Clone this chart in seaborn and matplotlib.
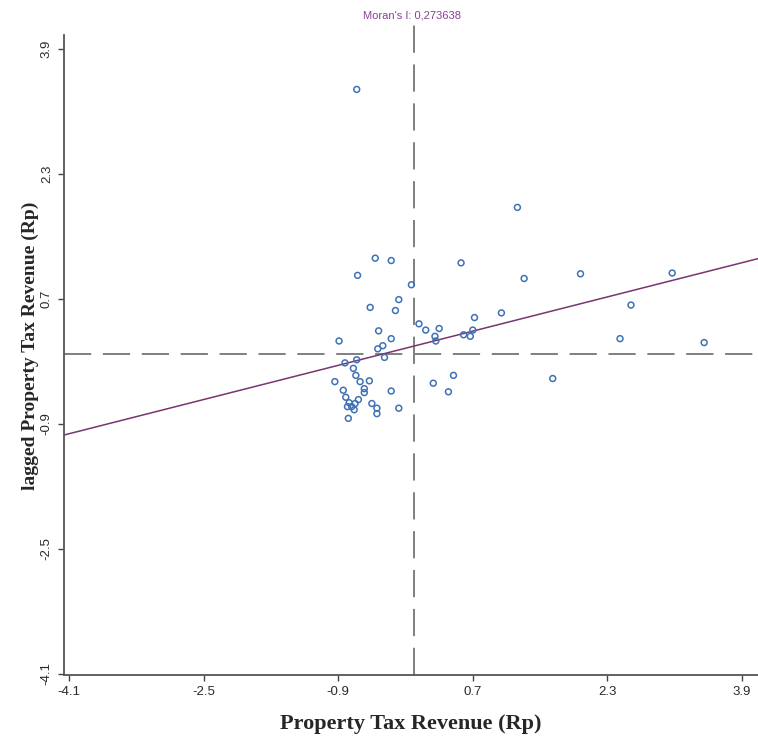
import matplotlib
matplotlib.use('agg')
import matplotlib.pyplot as plt
import numpy as np
import pandas as pd
import seaborn as sns

# standardized property tax revenue (x) and its spatial lag (y)
tax_revenue = [1.23, -0.46, -0.27, 0.56, -0.67, 1.31, -0.03, -0.18, -0.52, -0.22,
               0.72, 1.04, 0.06, 0.14, 0.30, -0.42, 0.70, 0.25, 0.26, 0.59,
               0.67, -0.89, -0.27, -0.37, -0.43, -0.35, -0.68, -0.82, -0.72, -0.69,
               -0.94, -0.64, -0.53, 0.47, 0.23, 1.65, -0.84, -0.59, -0.59, -0.27,
               0.41, -0.81, -0.66, -0.77, -0.70, -0.50, -0.79, -0.74, -0.71, -0.44,
               -0.18, -0.44, -0.78, 1.98, 3.07, 2.58, 2.45, 3.45, -0.68]
lagged_revenue = [1.87, 1.22, 1.19, 1.16, 1.00, 0.96, 0.88, 0.69, 0.59, 0.55,
                  0.46, 0.52, 0.38, 0.30, 0.32, 0.29, 0.30, 0.22, 0.16, 0.24,
                  0.22, 0.16, 0.19, 0.10, 0.06, -0.05, -0.08, -0.12, -0.19, -0.28,
                  -0.36, -0.36, -0.35, -0.28, -0.38, -0.32, -0.47, -0.45, -0.50, -0.48,
                  -0.49, -0.56, -0.59, -0.63, -0.64, -0.64, -0.68, -0.68, -0.72, -0.70,
                  -0.70, -0.77, -0.83, 1.02, 1.03, 0.62, 0.19, 0.14, 3.38]

morans_i = 0.273638
intercept = 0.095

tick_values = [-4.1, -2.5, -0.9, 0.7, 2.3, 3.9]

df = pd.DataFrame({'x': tax_revenue, 'y': lagged_revenue})

sns.set_style('white')
plt.rcParams['font.family'] = ['Liberation Sans', 'DejaVu Sans']

fig = plt.figure(figsize=(7.58, 7.43), dpi=100)
# axes run a bit above the y spine so the vertical dashed line reaches the title
ax = fig.add_axes([0.0844, 0.092, 0.9156, 0.876])

# mean lines
ax.axvline(0, color='#7f7f7f', lw=1.4, ls=(0, (14, 6)), zorder=1)
ax.axhline(0, color='#7f7f7f', lw=1.4, ls=(0, (14, 6)), zorder=1)

# Moran's I slope line
ax.axline((0, intercept), slope=morans_i, color='#7a3470', lw=1.1, zorder=2)

sns.scatterplot(data=df, x='x', y='y', ax=ax, marker='o', s=18,
                facecolor='none', edgecolor='#3f72b5', linewidth=1.1, zorder=3)

ax.set_xlim(-4.16, 4.09)
ax.set_ylim(-4.11, 4.22)
ax.spines['left'].set_bounds(-4.11, 4.08)
ax.set_xticks(tick_values)
ax.set_yticks(tick_values)
ax.set_xticklabels([str(v) for v in tick_values], fontsize=9.5, color='#2a2a2a')
ax.set_yticklabels([str(v) for v in tick_values], fontsize=9.5, color='#2a2a2a',
                   rotation=90, va='center')
ax.tick_params(axis='both', direction='out', length=4, width=1, color='#444444', pad=4,
               bottom=True, left=True)

for side in ['top', 'right']:
    ax.spines[side].set_visible(False)
for side in ['left', 'bottom']:
    ax.spines[side].set_color('#555555')
    ax.spines[side].set_linewidth(1.3)

ax.set_xlabel('Property Tax Revenue (Rp)', family='Liberation Serif',
              fontweight='bold', fontsize=16, labelpad=12)
ax.set_ylabel('lagged Property Tax Revenue (Rp)', family='Liberation Serif',
              fontweight='bold', fontsize=14, labelpad=4)
ax.yaxis.set_label_coords(-0.036, 0.505)

fig.text(0.5435, 1 - 15 / 743, "Moran's I: 0,273638", fontsize=8, color='#8a3f96',
         ha='center', va='center')

fig.savefig('out.png', dpi=100)
